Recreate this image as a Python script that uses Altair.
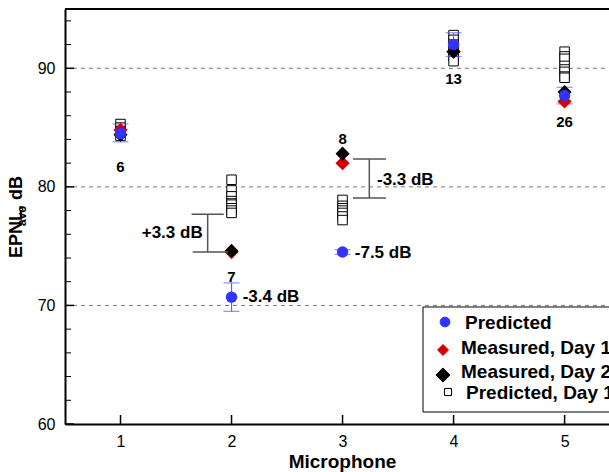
import altair as alt
import pandas as pd

FONT = "Liberation Sans"

# ---- data ----
mics = [1, 2, 3, 4, 5]
predicted = [84.5, 70.7, 74.5, 92.0, 87.7]
pred_hi = [85.3, 71.9, 74.7, 93.0, 88.4]
pred_lo = [83.8, 69.5, 74.3, 91.0, 87.0]
measured_day1 = [84.8, 74.5, 82.0, 91.4, 87.2]
measured_day2 = [84.4, 74.6, 82.8, 91.4, 88.0]
predicted_day1_runs = {
    1: [85.3, 85.0, 84.7, 84.3],
    2: [80.6, 79.7, 79.2, 78.8, 78.6, 78.5, 78.2, 78.0, 77.8],
    3: [78.9, 78.4, 78.2, 78.0, 77.8, 77.5, 77.2],
    4: [92.8, 92.4, 92.0, 91.4, 91.0, 90.6],
    5: [91.4, 91.0, 90.8, 90.2, 89.9, 89.7, 89.3, 89.2],
}
run_counts = ["6", "7", "8", "13", "26"]
count_y = [81.7, 72.4, 84.0, 89.1, 85.5]

# delta annotations
delta_text = ["+3.3 dB", "-3.4 dB", "-3.3 dB", "-7.5 dB"]
delta_x = [1.74, 2.10, 3.31, 3.11]
delta_y = [76.1, 70.7, 80.6, 74.4]
delta_align = ["right", "left", "left", "left"]

# brackets
br_x = [1.785, 3.241]
br_top = [77.7, 82.35]
br_bot = [74.5, 79.06]
cap_x1 = [1.64, 1.65, 3.094, 3.094]
cap_x2 = [1.93, 1.97, 3.391, 3.391]
cap_y = [77.7, 74.5, 82.35, 79.06]

y_labels = [60, 70, 80, 90]
y_minor = [62, 64, 66, 68, 72, 74, 76, 78, 82, 84, 86, 88, 92, 94]
grid_vals = [70, 80, 90]

legend_labels = ["Predicted", "Measured, Day 1", "Measured, Day 2", "Predicted, Day 1"]
legend_shapes = ["circle", "diamond", "diamond", "square"]
legend_fill = ["#3333ff", "#d40000", "#000000", "#ffffff"]
legend_stroke = ["#3333ff", "#d40000", "#000000", "#000000"]
legend_size = [95, 120, 200, 50]
legend_sym_x = [380, 378, 378, 383]
legend_sym_y = [313, 341, 366, 383]
legend_text_x = [400, 396, 396, 401]
legend_text_y = [314, 339, 363, 384]

W, H = 544, 415
XD = [0.5, 5.4]
YD = [60, 95]

# ---- tables ----
main = pd.DataFrame({
    "mic": mics, "pred": predicted, "hi": pred_hi, "lo": pred_lo,
    "m1": measured_day1, "m2": measured_day2,
    "count": run_counts, "cy": count_y,
})
runs = pd.DataFrame([(m, v) for m, vs in predicted_day1_runs.items() for v in vs],
                    columns=["mic", "val"])
deltas = pd.DataFrame({"t": delta_text, "x": delta_x, "y": delta_y, "a": delta_align})
brk = pd.DataFrame({"x": br_x, "top": br_top, "bot": br_bot})
caps = pd.DataFrame({"x1": cap_x1, "x2": cap_x2, "y": cap_y})
leg = pd.DataFrame({"label": legend_labels, "shape": legend_shapes, "fill": legend_fill,
                    "stroke": legend_stroke, "size": legend_size,
                    "sx": legend_sym_x, "sy": legend_sym_y,
                    "tx": legend_text_x, "ty": legend_text_y})

xs = alt.Scale(domain=XD, nice=False, zero=False)
ys = alt.Scale(domain=YD, nice=False, zero=False)
px_x = alt.Scale(domain=[0, W], range=[0, W], nice=False, zero=False)
px_y = alt.Scale(domain=[0, H], range=[0, H], nice=False, zero=False)

X = alt.X("mic:Q", scale=xs, axis=alt.Axis(
    values=mics, format="d", title="Microphone", ticks=False, grid=False,
    labelFont=FONT, labelFontSize=16, labelColor="black", labelPadding=9,
    titleFont=FONT, titleFontSize=19, titleFontWeight="bold", titleColor="black",
    titlePadding=3, titleX=277, domainColor="black", domainWidth=2))
Y = alt.Y("pred:Q", scale=ys, axis=alt.Axis(
    values=y_labels, title="EPNL, dB", ticks=False, grid=False,
    labelFont=FONT, labelFontSize=16, labelColor="black", labelPadding=10,
    titleFont=FONT, titleFontSize=18, titleFontWeight="bold", titleColor="black",
    titlePadding=12, domainColor="black", domainWidth=2))


def xq(f):
    return alt.X(f, scale=xs, axis=None)


def yq(f):
    return alt.Y(f, scale=ys, axis=None)


base = alt.Chart(main)

grid = alt.Chart(pd.DataFrame({"g": grid_vals})).mark_rule(
    color="#777777", strokeDash=[4, 4], strokeWidth=1).encode(
    y=yq("g:Q"), x=alt.value(0), x2=alt.value(W))

top_line = alt.Chart(pd.DataFrame({"g": [YD[1]]})).mark_rule(
    color="black", strokeWidth=2).encode(
    y=yq("g:Q"), x=alt.value(0), x2=alt.value(W))

ymaj = alt.Chart(pd.DataFrame({"v": y_labels})).mark_rule(color="black", strokeWidth=1.5).encode(
    y=yq("v:Q"), x=alt.value(0), x2=alt.value(9))
ymin = alt.Chart(pd.DataFrame({"v": y_minor})).mark_rule(color="black", strokeWidth=1).encode(
    y=yq("v:Q"), x=alt.value(0), x2=alt.value(6))
xmaj = alt.Chart(pd.DataFrame({"v": mics})).mark_rule(color="black", strokeWidth=1.5).encode(
    x=xq("v:Q"), y=alt.value(H), y2=alt.value(H - 9))

squares = alt.Chart(runs).mark_point(
    shape="square", size=90, filled=True, fill="white", stroke="black", strokeWidth=1, opacity=1).encode(
    x=xq("mic:Q"), y=yq("val:Q"))

err = base.mark_rule(color="#6060ff", strokeWidth=1.2).encode(
    x=X, y=yq("lo:Q"), y2="hi:Q")
err_hi = base.mark_tick(color="#6060ff", thickness=1.2, size=16, orient="horizontal").encode(
    x=xq("mic:Q"), y=yq("hi:Q"))
err_lo = base.mark_tick(color="#6060ff", thickness=1.2, size=16, orient="horizontal").encode(
    x=xq("mic:Q"), y=yq("lo:Q"))

red = base.mark_point(shape="diamond", size=200, filled=True, color="#d40000", opacity=1).encode(
    x=xq("mic:Q"), y=yq("m1:Q"))
black = base.mark_point(shape="diamond", size=200, filled=True, color="black", opacity=1).encode(
    x=xq("mic:Q"), y=yq("m2:Q"))
blue = base.mark_point(shape="circle", size=130, filled=True, color="#3333ff", opacity=1).encode(
    x=xq("mic:Q"), y=Y)

counts = base.mark_text(font=FONT, fontSize=15, fontWeight="bold", color="black").encode(
    x=xq("mic:Q"), y=yq("cy:Q"), text="count:N")

brk_v = alt.Chart(brk).mark_rule(color="#555555", strokeWidth=1.5).encode(
    x=xq("x:Q"), y=yq("bot:Q"), y2="top:Q")
brk_c = alt.Chart(caps).mark_rule(color="#555555", strokeWidth=1.5).encode(
    x=xq("x1:Q"), x2="x2:Q", y=yq("y:Q"))

dl = alt.Chart(deltas[deltas.a == "left"]).mark_text(
    font=FONT, fontSize=17, fontWeight="bold", color="black", align="left").encode(
    x=xq("x:Q"), y=yq("y:Q"), text="t:N")
dr = alt.Chart(deltas[deltas.a == "right"]).mark_text(
    font=FONT, fontSize=17, fontWeight="bold", color="black", align="right").encode(
    x=xq("x:Q"), y=yq("y:Q"), text="t:N")

# legend (drawn manually so it is clipped by the plot edge like the reference)
leg_box = alt.Chart(pd.DataFrame({"k": [0]})).mark_rect(
    fill="white", stroke="black", strokeWidth=1, clip=True).encode(
    x=alt.value(358), x2=alt.value(W + 40), y=alt.value(298), y2=alt.value(403))
leg_sym = alt.Chart(leg).mark_point(filled=True, opacity=1, strokeWidth=1).encode(
    x=alt.X("sx:Q", scale=px_x, axis=None), y=alt.Y("sy:Q", scale=px_y, axis=None),
    shape=alt.Shape("shape:N", scale=None), fill=alt.Fill("fill:N", scale=None),
    stroke=alt.Stroke("stroke:N", scale=None), size=alt.Size("size:Q", scale=None))
leg_txt = alt.Chart(leg).mark_text(
    font=FONT, fontSize=19, fontWeight="bold", color="black", align="left", clip=True).encode(
    x=alt.X("tx:Q", scale=px_x, axis=None),
    y=alt.Y("ty:Q", scale=px_y, axis=None),
    text="label:N")

ave = alt.Chart(pd.DataFrame({"t": ["ave"]})).mark_text(
    font=FONT, fontSize=12, fontWeight="bold", color="black", angle=270).encode(
    x=alt.value(-43), y=alt.value(207), text="t:N")

chart = alt.layer(
    grid, squares, err, err_hi, err_lo, red, black, blue, counts,
    brk_v, brk_c, dl, dr, ymaj, ymin, xmaj, top_line,
    leg_box, leg_sym, leg_txt, ave,
).resolve_scale(x="independent", y="independent").properties(
    width=W, height=H,
    autosize=alt.AutoSizeParams(type="none"),
    padding={"left": 65, "top": 9, "right": 0, "bottom": 48},
).configure_view(stroke=None).configure(background="white")

chart.save("out.html", embed_options={"renderer": "svg", "actions": False})
